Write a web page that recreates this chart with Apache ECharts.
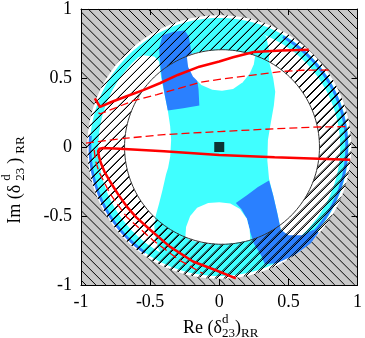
<!DOCTYPE html>
<html><head><meta charset="utf-8">
<script src="https://cdn.jsdelivr.net/npm/echarts/dist/echarts.min.js"></script>
<style>html,body{margin:0;padding:0;background:#fff}#c{width:365px;height:338px}</style>
</head><body><div id="c"></div>
<script>
// ---------- data ----------
const tickValues = [-1, -0.5, 0, 0.5, 1];
const xTickLabels = ['-1', '-0.5', '0', '0.5', '1'];
const yTickLabels = ['-1', '-0.5', '0', '0.5', '1'];

// red curves
const solidUpper = [[0.647,0.704],[0.45,0.700],[0.25,0.688],[0.10,0.650],[0.0,0.620],[-0.144,0.582],[-0.30,0.522],[-0.43,0.462],[-0.55,0.412],[-0.67,0.368],[-0.78,0.326],[-0.862,0.290],[-0.90,0.352]];
const dashedUpper = [[0.79,0.558],[0.60,0.556],[0.455,0.548],[0.2,0.515],[0.0,0.49],[-0.144,0.468],[-0.29,0.425],[-0.45,0.38],[-0.62,0.336],[-0.76,0.28],[-0.86,0.24],[-0.89,0.255]];
const dashedMiddle = [[-0.964,0.028],[-0.72,0.059],[-0.4,0.09],[0,0.112],[0.4,0.132],[0.72,0.145],[0.935,0.148]];
const solidLower = [[0.947,-0.093],[0.72,-0.085],[0.4,-0.075],[0.0,-0.058],[-0.4,-0.03],[-0.72,-0.013],[-0.84,-0.008],[-0.866,-0.012],[-0.876,-0.03],[-0.87,-0.07],[-0.855,-0.12],[-0.83,-0.18],[-0.79,-0.25],[-0.73,-0.345],[-0.67,-0.43],[-0.6,-0.51],[-0.5,-0.6],[-0.36,-0.72],[-0.19,-0.83],[-0.02,-0.895],[0.12,-0.952]];
const dashedLower = [[-0.905,-0.02],[-0.895,-0.1],[-0.87,-0.18],[-0.79,-0.338],[-0.67,-0.507],[-0.48,-0.675],[-0.288,-0.82],[-0.12,-0.916]];
const centralPoint = [[0, 0]];

// regions
const discRadius = 0.955;
const innerCircle = [0.02, 0, 0.705];
const ringCyanR = [0.875, 0.935];
const blueArcs = [[-50, 60, 0.912, 0.932], [175, 235, 0.925, 0.945]];
const cyanCore = [[-0.64,0.63],[-0.55,0.665],[-0.47,0.655],[-0.435,0.62],[-0.42,0.5],[-0.395,0.38],[-0.372,0.264],[-0.355,0.15],[-0.348,0.05],[-0.355,-0.07],[-0.37,-0.15],[-0.385,-0.2],[-0.41,-0.31],[-0.435,-0.41],[-0.46,-0.5],[-0.47,-0.58],[-0.46,-0.66],[-0.44,-0.74],[-0.40,-0.80],[-0.3,-0.83],[-0.15,-0.87],[0,-0.88],[0.15,-0.87],[0.3,-0.83],[0.45,-0.76],[0.58,-0.67],[0.66,-0.61],[0.6,-0.645],[0.5,-0.645],[0.445,-0.6],[0.42,-0.48],[0.39,-0.35],[0.36,-0.23],[0.348,-0.1],[0.352,0.05],[0.372,0.17],[0.395,0.3],[0.405,0.4],[0.39,0.5],[0.36,0.62],[0.36,0.70],[0.34,0.80],[0.3,0.83],[0.15,0.87],[0,0.88],[-0.15,0.87],[-0.3,0.83],[-0.45,0.76],[-0.56,0.7]];
const blueUL = [[-0.372,0.264],[-0.26,0.28],[-0.144,0.30],[-0.15,0.42],[-0.165,0.52],[-0.19,0.62],[-0.205,0.71],[-0.22,0.80],[-0.25,0.845],[-0.33,0.835],[-0.41,0.81],[-0.435,0.72],[-0.43,0.62],[-0.415,0.5],[-0.395,0.38]];
const blueLR = [[0.12,-0.405],[0.2,-0.35],[0.28,-0.29],[0.36,-0.242],[0.39,-0.35],[0.42,-0.48],[0.445,-0.6],[0.5,-0.64],[0.6,-0.64],[0.68,-0.60],[0.72,-0.62],[0.66,-0.7],[0.55,-0.78],[0.42,-0.84],[0.33,-0.85],[0.3,-0.78],[0.25,-0.7],[0.225,-0.62],[0.2,-0.52],[0.16,-0.45]];
const biteTop = [[-0.235,0.657],[-0.225,0.58],[-0.19,0.51],[-0.13,0.45],[-0.05,0.415],[0.02,0.408],[0.1,0.42],[0.17,0.47],[0.22,0.53],[0.25,0.6],[0.26,0.663],[0.2,0.68],[0.1,0.70],[0.02,0.705],[-0.1,0.697],[-0.2,0.676]];
const biteBottom = [[-0.245,-0.653],[-0.24,-0.58],[-0.21,-0.5],[-0.16,-0.44],[-0.08,-0.405],[0,-0.40],[0.08,-0.41],[0.15,-0.45],[0.2,-0.52],[0.22,-0.6],[0.225,-0.675],[0.1,-0.698],[0.02,-0.705],[-0.1,-0.697],[-0.2,-0.68]];

// hatch styling
const greyHatchStep = 0.072;
const ringTilePx = 9;                       // pattern tile for the "/" hatch
const ringHatchStep = ringTilePx / 138.75;  // same spacing in data units
const ringHatchC0 = 366.5 / 138.5;          // phase so lines fall on the tile lines

const GREY = '#c9c9c9', CYAN = '#40ffff', BLUE = '#2a80ff', RED = '#ff0000';
const SERIF = '"Liberation Serif", "Times New Roman", serif';

function arcPts(cx, cy, r, a0, a1, n) {
  const out = [];
  for (let i = 0; i <= n; i++) {
    const a = (a0 + (a1 - a0) * i / n) * Math.PI / 180;
    out.push([cx + r * Math.cos(a), cy + r * Math.sin(a)]);
  }
  return out;
}
function bandPts(cx, cy, r1, r2, a0, a1) {
  return arcPts(cx, cy, r2, a0, a1, 180).concat(arcPts(cx, cy, r1, a1, a0, 180));
}
function polySeries(z, pts, fill) {
  return {
    type: 'custom', z: z, silent: true, data: [[0, 0]],
    renderItem: function (params, api) {
      return { type: 'polygon', shape: { points: pts.map(p => api.coord(p)) }, style: { fill: fill } };
    }
  };
}
function greyHatchData() {
  const out = [];
  for (let k = 0; k < 60; k++) {
    const c = -2 + greyHatchStep * (k + 0.5);
    if (c >= 2) break;
    const x1 = Math.max(-1, c - 1), x2 = Math.min(1, c + 1);
    if (x2 > x1) out.push([x1, c - x1], [x2, c - x2], null);
  }
  return out;
}
function ringHatchData() {
  const out = [];
  const R = discRadius, a = innerCircle[0], r = innerCircle[2];
  for (let m = 0; m < 80; m++) {
    const c = ringHatchC0 - ringHatchStep * m;
    if (c <= -1.4) break;
    const d = 2 * R * R - c * c;
    if (d <= 0) continue;
    const xo1 = (-c - Math.sqrt(d)) / 2, xo2 = (-c + Math.sqrt(d)) / 2;
    const b = c - a;
    const di = b * b - 2 * (a * a + c * c - r * r);
    if (di > 0) {
      const xi1 = (-b - Math.sqrt(di)) / 2, xi2 = (-b + Math.sqrt(di)) / 2;
      out.push([xo1, xo1 + c], [xi1, xi1 + c], null);
      out.push([xi2, xi2 + c], [xo2, xo2 + c], null);
    } else {
      out.push([xo1, xo1 + c], [xo2, xo2 + c], null);
    }
  }
  return out;
}
function hatchSeries(z, data) {
  return { type: 'line', z: z, silent: true, data: data, showSymbol: false, connectNulls: false,
           lineStyle: { color: '#000', width: 1 }, emphasis: { disabled: true } };
}
function makeHatchTile(s) {
  const cv = document.createElement('canvas'); cv.width = s; cv.height = s;
  const g = cv.getContext('2d');
  g.strokeStyle = '#000'; g.lineWidth = 1;
  g.beginPath();
  g.moveTo(-1, s + 1); g.lineTo(s + 1, -1);
  g.moveTo(-1, 1); g.lineTo(1, -1);
  g.moveTo(s - 1, s + 1); g.lineTo(s + 1, s - 1);
  g.stroke();
  return cv;
}
const ringPattern = { image: makeHatchTile(ringTilePx), repeat: 'repeat' };
const annulusPts = arcPts(0, 0, discRadius, 0, 360, 360)
  .concat(arcPts(innerCircle[0], innerCircle[1], innerCircle[2], 360, 0, 360));

// ---------- axis names (stacked super/subscripts) ----------
const measureCtx = document.createElement('canvas').getContext('2d');
function tw(t, s) { measureCtx.font = s + 'px ' + SERIF; return measureCtx.measureText(t).width; }
function labelChildren(first, gap) {
  const parts = [
    { t: first, s: 18, dy: 0 },
    { stack: [{ t: 'd', s: 13, dy: -8 }, { t: '23', s: 13, dy: 6 }] },
    { t: ')', s: 18, dy: 0 },
    { t: 'RR', s: 13, dy: 6 }
  ];
  const kids = []; let x = 0;
  parts.forEach((p, i) => {
    const items = p.stack || [p];
    let w = 0;
    items.forEach(it => {
      kids.push({ type: 'text', x: x, y: it.dy, style: { text: it.t, font: it.s + 'px ' + SERIF, fill: '#000', align: 'left', verticalAlign: 'middle' } });
      w = Math.max(w, tw(it.t, it.s));
    });
    x += w + (i < parts.length - 1 ? gap : 0);
  });
  return { kids: kids, width: x };
}
const xName = labelChildren('Re (δ', 0);
const yName = labelChildren('Im (δ', 4);

const axisCommon = {
  type: 'value', min: -1, max: 1, interval: 0.5, z: 10,
  splitLine: { show: false },
  axisLine: { show: true, onZero: false, lineStyle: { color: '#000', width: 1 } },
  axisTick: { show: true, inside: true, length: 6, lineStyle: { color: '#000' } }
};
const chart = echarts.init(document.getElementById('c'), null, { renderer: 'canvas' });
chart.setOption({
  animation: false,
  backgroundColor: '#fff',
  grid: { left: 81, right: 6, top: 8, bottom: 53, containLabel: false },
  xAxis: [
    Object.assign({}, axisCommon, { position: 'bottom', axisLabel: { show: true, margin: 8, fontFamily: SERIF, fontSize: 18, color: '#000', formatter: v => xTickLabels[tickValues.indexOf(v)] } }),
    Object.assign({}, axisCommon, { position: 'top', axisLabel: { show: false } })
  ],
  yAxis: [
    Object.assign({}, axisCommon, { position: 'left', axisLabel: { show: true, margin: 9, fontFamily: SERIF, fontSize: 18, color: '#000', formatter: v => yTickLabels[tickValues.indexOf(v)] } }),
    Object.assign({}, axisCommon, { position: 'right', axisLabel: { show: false } })
  ],
  graphic: [
    { type: 'group', x: 183, y: 328, children: xName.kids },
    { type: 'group', x: 15, y: 180 + yName.width / 2, rotation: Math.PI / 2, children: yName.kids }
  ],
  series: [
    polySeries(1, [[-1, -1], [1, -1], [1, 1], [-1, 1]], GREY),
    hatchSeries(2, greyHatchData()),
    polySeries(3, arcPts(0, 0, discRadius, 0, 360, 360), '#fff'),
    polySeries(4, bandPts(0, 0, ringCyanR[0], ringCyanR[1], 0, 360), CYAN),
    polySeries(5, bandPts(0, 0, blueArcs[0][2], blueArcs[0][3], blueArcs[0][0], blueArcs[0][1]), BLUE),
    polySeries(5, bandPts(0, 0, blueArcs[1][2], blueArcs[1][3], blueArcs[1][0], blueArcs[1][1]), BLUE),
    polySeries(6, cyanCore, CYAN),
    polySeries(7, blueUL, BLUE),
    polySeries(7, blueLR, BLUE),
    polySeries(8, biteTop, '#fff'),
    polySeries(8, biteBottom, '#fff'),
    polySeries(9, annulusPts, ringPattern),
    hatchSeries(9, ringHatchData()),
    { type: 'line', z: 9, silent: true, showSymbol: false, data: arcPts(innerCircle[0], innerCircle[1], innerCircle[2], 0, 360, 180), lineStyle: { color: '#333', width: 1 } },
    { type: 'line', z: 11, data: dashedUpper, showSymbol: false, lineStyle: { color: RED, width: 1.3, type: [8, 4] } },
    { type: 'line', z: 11, data: dashedMiddle, showSymbol: false, lineStyle: { color: RED, width: 1.3, type: [8, 4] } },
    { type: 'line', z: 11, data: dashedLower, showSymbol: false, lineStyle: { color: RED, width: 1.3, type: [8, 4] } },
    { type: 'line', z: 11, data: solidUpper, showSymbol: false, lineStyle: { color: RED, width: 2.5 } },
    { type: 'line', z: 11, data: solidLower, showSymbol: false, lineStyle: { color: RED, width: 2.5 } },
    { type: 'scatter', z: 12, data: centralPoint, symbol: 'rect', symbolSize: 10, itemStyle: { color: '#000' } }
  ]
});
</script></body></html>
